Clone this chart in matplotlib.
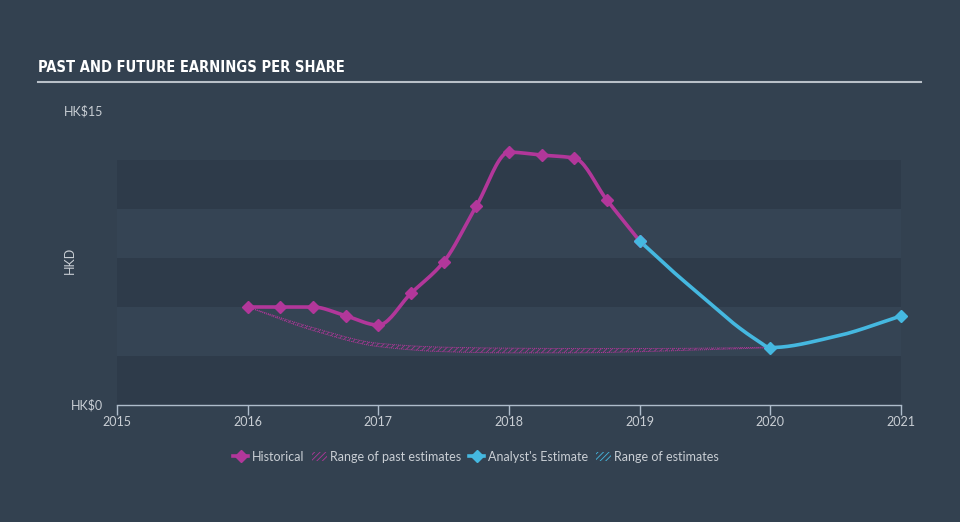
import numpy as np
import matplotlib
matplotlib.use("Agg")
import matplotlib.pyplot as plt
from matplotlib.lines import Line2D
from matplotlib.patches import Patch
from matplotlib import font_manager as fm

# ---- data ----
hist_x = [2016.0, 2016.25, 2016.5, 2016.75, 2017.0, 2017.25, 2017.5, 2017.75,
          2018.0, 2018.25, 2018.5, 2018.75, 2019.0]
hist_y = [5.0, 5.0, 5.0, 4.55, 4.08, 5.7, 7.3, 10.15, 12.9, 12.75, 12.6, 10.45, 8.37]

# analyst estimate points (markers) and the estimate curve
est_x = [2019.0, 2020.0, 2021.0]
est_y = [8.37, 2.93, 4.54]
est_curve_x = [2019.0, 2019.25, 2019.5, 2019.75, 2019.9, 2020.0, 2020.5, 2021.0]
est_curve_y = [8.37, 6.84, 5.41, 4.0, 3.3, 2.93, 3.5, 4.54]

past_range_x = [2016.0, 2016.5, 2017.0, 2017.5, 2018.0, 2018.5, 2019.0, 2019.5, 2020.0]
past_range_hi = [5.0, 3.95, 3.15, 2.95, 2.9, 2.88, 2.88, 2.9, 2.95]
past_range_lo = [5.0, 3.8, 2.98, 2.72, 2.66, 2.66, 2.72, 2.82, 2.92]

x_ticks = [2015, 2016, 2017, 2018, 2019, 2020, 2021]
y_ticks = [0, 15]
y_tick_labels = ["HK$0", "HK$15"]
band_edges = [0, 2.5, 5, 7.5, 10, 12.5]

# ---- styling ----
BG = "#334150"
DARK_BAND = "#2e3b4a"
LIGHT_BAND = "#354454"
MAGENTA = "#b2379a"
CYAN = "#45b8e0"
TXT = "#c9ced4"
BODY_FONT = ["Lato", "DejaVu Sans"]


def pick_condensed():
    for f in fm.fontManager.ttflist:
        n = (f.name + " " + f.fname).lower()
        if ("narrow" in n or "condensed" in n or "compressed" in n) and f.weight in (
                "bold", 700, "heavy", 800, "semibold", 600, "demibold"):
            return f
    for f in fm.fontManager.ttflist:
        n = (f.name + " " + f.fname).lower()
        if "narrow" in n or "condensed" in n:
            return f
    return None


def pchip(x, y, n=40):
    x = np.asarray(x, float)
    y = np.asarray(y, float)
    h = np.diff(x)
    d = np.diff(y) / h
    m = np.zeros_like(y)
    for i in range(1, len(y) - 1):
        if d[i - 1] * d[i] > 0:
            w1 = 2 * h[i] + h[i - 1]
            w2 = h[i] + 2 * h[i - 1]
            m[i] = (w1 + w2) / (w1 / d[i - 1] + w2 / d[i])
    m[0] = d[0]
    m[-1] = d[-1]
    xs, ys = [], []
    for i in range(len(h)):
        t = np.linspace(0, 1, n, endpoint=(i == len(h) - 1))
        h00 = 2 * t**3 - 3 * t**2 + 1
        h10 = t**3 - 2 * t**2 + t
        h01 = -2 * t**3 + 3 * t**2
        h11 = t**3 - t**2
        xs.append(x[i] + t * h[i])
        ys.append(h00 * y[i] + h10 * h[i] * m[i] + h01 * y[i + 1] + h11 * h[i] * m[i + 1])
    return np.concatenate(xs), np.concatenate(ys)


fig = plt.figure(figsize=(9.6, 5.22), dpi=100, facecolor=BG)
ax = fig.add_axes([117 / 960, (522 - 405) / 522, (901 - 117) / 960, (405 - 111) / 522])
ax.set_facecolor("none")
ax.set_xlim(2015, 2021)
ax.set_ylim(0, 15)

# bands
for i in range(len(band_edges) - 1):
    col = DARK_BAND if i % 2 == 0 else LIGHT_BAND
    ax.axhspan(band_edges[i], band_edges[i + 1], color=col, lw=0, zorder=0)

# past estimate range
rx, rhi = pchip(past_range_x, past_range_hi)
_, rlo = pchip(past_range_x, past_range_lo)
plt.rcParams['hatch.linewidth'] = 0.6
ax.fill_between(rx, rlo, rhi, facecolor="none", edgecolor=MAGENTA, hatch="//////",
                lw=0, zorder=2, alpha=0.9)
ax.plot(rx, rhi, color=MAGENTA, lw=0.7, ls=(0, (1, 1)), zorder=2)
ax.plot(rx, rlo, color=MAGENTA, lw=0.7, ls=(0, (1, 1)), zorder=2)

# historical
hx, hy = pchip(hist_x, hist_y, n=20)
ax.plot(hx, hy, color=MAGENTA, lw=2.6, zorder=3, solid_capstyle="round")
ax.plot(hist_x, hist_y, ls="none", marker="D", ms=6, color=MAGENTA, zorder=4)

# estimate
ex, ey = pchip(est_curve_x, est_curve_y, n=30)
ax.plot(ex, ey, color=CYAN, lw=2.6, zorder=3, solid_capstyle="round")
ax.plot(est_x, est_y, ls="none", marker="D", ms=6, color=CYAN, zorder=5, clip_on=False)

# axes styling
for s in ["top", "right", "left"]:
    ax.spines[s].set_visible(False)
ax.spines["bottom"].set_color("#aebccb")
ax.spines["bottom"].set_linewidth(1)
ax.set_xticks(x_ticks)
ax.set_xticklabels([str(t) for t in x_ticks], family=BODY_FONT)
ax.tick_params(axis="x", colors="#aebccb", length=7, width=1, pad=1, labelsize=9,
               labelcolor=TXT)
ax.set_yticks(y_ticks)
ax.set_yticklabels(y_tick_labels, family=BODY_FONT)
ax.tick_params(axis="y", length=0, pad=10, labelsize=9, labelcolor=TXT)
for lbl in ax.get_yticklabels():
    lbl.set_verticalalignment("center")
fig.text(70 / 960, 1 - 260 / 522, "HKD", color=TXT, fontsize=9, rotation=90,
         ha="center", va="center", family=BODY_FONT)

# title + underline
cf = pick_condensed()
if cf is not None:
    tprop = fm.FontProperties(fname=cf.fname, size=10.5)
else:
    tprop = fm.FontProperties(family="DejaVu Sans", size=9.5, weight="bold")
fig.text(38 / 960, 1 - 68 / 522, "PAST AND FUTURE EARNINGS PER SHARE",
         fontproperties=tprop, color="#ffffff", va="center", ha="left")
fig.add_artist(Line2D([38 / 960, 921 / 960], [1 - 82 / 522, 1 - 82 / 522],
                      color="#b9c0c8", lw=1.5))

# legend
handles = [
    Line2D([0], [0], color=MAGENTA, lw=2.6, marker="D", ms=6),
    Patch(facecolor="none", edgecolor=MAGENTA, hatch="//////", lw=0),
    Line2D([0], [0], color=CYAN, lw=2.6, marker="D", ms=6),
    Patch(facecolor="none", edgecolor=CYAN, hatch="//////", lw=0),
]
labels = ["Historical", "Range of past estimates", "Analyst's Estimate", "Range of estimates"]
leg = fig.legend(handles, labels, loc="center", bbox_to_anchor=(476 / 960, 1 - 457 / 522),
                 ncol=4, frameon=False, prop=fm.FontProperties(family=BODY_FONT, size=9),
                 labelcolor=TXT, handlelength=1.2, handletextpad=0.3,
                 columnspacing=0.6, handleheight=0.8)

fig.savefig("out.png", dpi=100, facecolor=BG)
